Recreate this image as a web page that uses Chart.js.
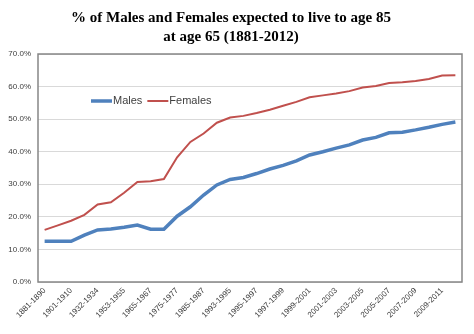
<!DOCTYPE html>
<html>
<head>
<meta charset="utf-8">
<script src="https://cdn.jsdelivr.net/npm/chart.js@4"></script>
<style>
html,body{margin:0;padding:0;background:#fff}
#wrap{width:474px;height:334px}
</style>
</head>
<body>
<div id="wrap"><canvas id="chart" width="474" height="334"></canvas></div>
<script>
// data
const periods = ["1881-1890","1891-1900","1901-1910","1920-1922","1932-1934","1950-1952","1953-1955","1960-1962",
"1965-1967","1970-1972","1975-1977","1980-1982","1985-1987","1990-1992","1993-1995","1994-1996",
"1995-1997","1996-1998","1997-1999","1998-2000","1999-2001","2000-2002","2001-2003","2002-2004",
"2003-2005","2004-2006","2005-2007","2006-2008","2007-2009","2008-2010","2009-2011","2010-2012"]

const males = [12.5,12.5,12.5,14.4,16.0,16.3,16.8,17.5,16.2,16.2,20.2,23.1,26.7,29.8,31.5,32.1,
33.3,34.7,35.8,37.2,39.0,40.0,41.1,42.1,43.6,44.4,45.8,46.0,46.7,47.5,48.4,49.1]

const females = [16.0,17.4,18.8,20.6,23.8,24.5,27.4,30.7,30.9,31.6,38.3,43.0,45.6,48.9,50.5,51.0,
51.9,52.9,54.1,55.3,56.7,57.3,57.9,58.6,59.7,60.2,61.1,61.3,61.7,62.3,63.4,63.5]

const yTicks = [0,10,20,30,40,50,60,70]

const tickFont = {family:"Liberation Sans", size:8}

// border round plot + small legend inside it
const plotExtras = {
  id:"plotExtras",
  beforeDatasetsDraw(chart){
    const a = chart.chartArea, ctx = chart.ctx
    ctx.save()
    ctx.strokeStyle = "#868686"
    ctx.lineWidth = 1.5
    ctx.strokeRect(a.left, a.top, a.right-a.left, a.bottom-a.top)
    ctx.restore()
  },
  afterDraw(chart){
    const a = chart.chartArea, ctx = chart.ctx
    let x = a.left + 53
    const y = a.top + 47
    ctx.save()
    ctx.font = "11px 'Liberation Sans'"
    ctx.textBaseline = "middle"
    chart.data.datasets.forEach(ds=>{
      ctx.strokeStyle = ds.borderColor
      ctx.lineWidth = ds.borderWidth
      ctx.beginPath()
      ctx.moveTo(x, y)
      ctx.lineTo(x+21, y)
      ctx.stroke()
      ctx.fillStyle = "#404040"
      ctx.fillText(ds.label, x+22, y)
      x += 22 + ctx.measureText(ds.label).width + 5
    })
    ctx.restore()
  }
}

new Chart(document.getElementById("chart"),{
  type:"line",
  data:{
    labels:periods,
    datasets:[
      {label:"Males", data:males, borderColor:"#4F81BD", borderWidth:3.5, pointRadius:0, tension:0},
      {label:"Females", data:females, borderColor:"#C0504D", borderWidth:2, pointRadius:0, tension:0}
    ]
  },
  options:{
    responsive:false,
    animation:false,
    layout:{padding:{left:0,right:12,top:0,bottom:0}},
    plugins:{
      legend:{display:false},
      tooltip:{enabled:false},
      title:{
        display:true,
        text:["% of Males and Females expected to live to age 85","at age 65 (1881-2012)"],
        font:{family:"Liberation Serif", size:15, weight:"bold", lineHeight:1.3},
        color:"#000",
        padding:{top:8,bottom:7}
      }
    },
    scales:{
      x:{
        offset:true,
        grid:{display:false, drawTicks:false},
        border:{display:false},
        afterFit(s){ s.height = 52 },
        ticks:{
          autoSkip:false,
          minRotation:45, maxRotation:45,
          padding:4,
          font:tickFont, color:"#404040",
          callback(v,i){ return i%2===0 ? periods[i] : "" }
        }
      },
      y:{
        min:0, max:70,
        afterFit(s){ s.width = 38 },
        afterBuildTicks(s){ s.ticks = yTicks.map(v=>({value:v})) },
        grid:{color:"#D9D9D9", drawTicks:false},
        border:{display:false},
        ticks:{
          padding:7,
          font:tickFont, color:"#404040",
          callback(v){ return v.toFixed(1)+"%" }
        }
      }
    }
  },
  plugins:[plotExtras]
})
</script>
</body>
</html>
